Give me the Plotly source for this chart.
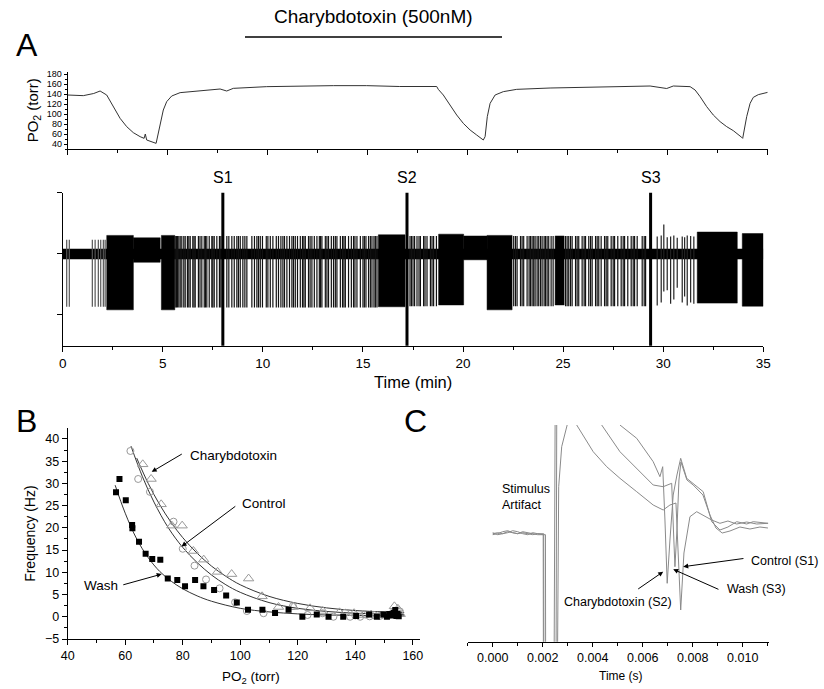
import plotly.graph_objects as go

W, H = 824, 689
FONT = "Arial, Liberation Sans, sans-serif"

def px(x):
    return x / W

def py(y):
    return 1 - y / H

# ---------------- Panel A (top): PO2 trace ----------------
po2_time = [0, 0.78, 1.3, 1.62, 1.95, 2.28, 2.62, 2.95, 3.28, 3.62, 3.82, 3.88, 3.95, 4.42,
            4.53, 4.62, 4.78, 4.95, 5.2, 5.62, 6.62, 7.62, 7.95, 8.28, 9.95, 11.62, 13.28,
            14.95, 16.6, 18.45, 18.53, 18.78, 19.12, 19.45, 19.78, 20.12, 20.45, 20.78,
            20.87, 20.98, 21.12, 21.37, 21.78, 22.45, 24.12, 26.62, 29.12, 29.95, 30.28,
            31.12, 31.37, 31.62, 31.95, 32.28, 32.62, 32.95, 33.28, 33.7, 33.75, 33.95,
            34.12, 34.28, 34.53, 35.0]
po2_vals = [138, 136.7, 141, 146, 138, 114.7, 91.3, 74.7, 62.7, 54.7, 51.3, 60, 48, 41.3,
            61.3, 81.3, 108, 124.7, 136, 142.7, 146.7, 150, 146, 151.3, 154.7, 156, 156.7,
            156.7, 155, 155, 149.3, 138, 118, 98, 81.3, 68, 58, 48,
            54.7, 94.7, 121.3, 138, 144.7, 149.3, 152, 154.7, 156, 151, 156,
            154.7, 148, 134.7, 114.7, 98, 84.7, 74.7, 66.7, 53.3, 51.3, 94.7,
            121.3, 133.3, 138.7, 143.3]

# ---------------- Panel A (bottom): nerve activity ----------------
noise_band = [0.08, -0.09]            # baseline noise envelope (a.u.)
burst_start = [2.2, 3.53, 4.93, 15.77, 18.78, 20.03, 21.2, 24.6, 31.7, 33.95]
burst_end = [3.53, 4.87, 5.6, 17.1, 20.03, 21.2, 22.45, 25.05, 33.7, 35.0]
burst_top = [0.30, 0.26, 0.30, 0.31, 0.32, 0.29, 0.30, 0.29, 0.355, 0.33]
burst_bottom = [-0.92, -0.14, -0.92, -0.87, -0.84, -0.10, -0.92, -0.84, -0.81, -0.86]

spikes_early = [0.2, 0.33, 1.48, 1.62, 1.78, 1.9, 2.03, 2.12]
spikes_mid = [5.62, 5.68, 5.73, 5.8, 5.87, 5.95, 6.05, 6.12, 6.23, 6.3, 6.37, 6.50, 6.56, 6.62,
              6.78, 6.86, 6.95, 7.07, 7.13, 7.2, 7.32, 7.45, 7.5, 7.57, 7.7, 7.83, 7.9, 8.2,
              8.3, 8.45, 8.57, 8.7, 8.78, 8.87, 9.0, 9.1, 9.2, 9.45, 9.58, 9.7, 9.78, 9.87,
              9.98, 10.17, 10.25, 10.37, 10.5, 10.67, 10.78, 10.9, 11.0, 11.08, 11.2, 11.33,
              11.45, 11.53, 11.62, 11.73, 11.87, 11.98, 12.05, 12.12, 12.28, 12.36, 12.45,
              12.57, 12.7, 12.82, 12.88, 12.95, 13.12, 13.2, 13.28, 13.42, 13.53, 13.62,
              13.7, 13.87, 13.98, 14.05, 14.12, 14.28, 14.42, 14.53, 14.6, 14.7, 14.87,
              15.0, 15.07, 15.15, 15.28, 15.37, 15.45, 15.55, 15.62, 15.7]
spikes_after_s2 = [17.35, 17.42, 17.5, 17.58, 17.7, 17.8, 17.87, 18.03, 18.1, 18.2, 18.37,
                   18.45, 18.53, 18.67, 22.53, 22.62, 22.7, 22.87, 22.95, 23.03, 23.2, 23.3,
                   23.37, 23.45, 23.53, 23.6, 23.7, 23.78, 23.87, 23.95, 24.05, 24.12, 24.2,
                   24.28, 24.4, 24.5, 25.12, 25.2, 25.28, 25.37, 25.45, 25.62, 25.7, 25.78,
                   25.95, 26.05, 26.12, 26.28, 26.37, 26.45, 26.62, 26.7, 26.78, 26.9, 27.07,
                   27.15, 27.23, 27.4, 27.5, 27.57, 27.73, 27.9, 28.0, 28.07, 28.23, 28.4,
                   28.5, 28.57, 28.7, 28.95, 29.05, 29.12]
spikes_after_s3 = [29.7, 29.9, 30.03, 30.2, 30.37, 30.53, 30.7, 30.95, 31.07, 31.2, 31.37, 31.53]
spikes_after_s3_bottom = [-0.85, -0.80, -0.62, -0.60, -0.82, -0.75, -0.56, -0.80, -0.70, -0.85, -0.80, -0.82]
spikes_after_s3_top = [0.28, 0.30, 0.48, 0.27, 0.28, 0.30, 0.26, 0.28, 0.27, 0.30, 0.29, 0.28]

stim_times = [8.0, 17.2, 29.37]
stim_labels = ["S1", "S2", "S3"]

# ---------------- Panel B: frequency vs PO2 ----------------
wash_x = [56.8, 58.0, 60.2, 62.4, 62.5, 64.8, 67.1, 69.4, 72.2, 74.8, 78.1, 80.8, 84.3, 87.2,
          90.9, 95.1, 98.8, 102.7, 107.7, 112.1, 116.8, 121.6, 126.6, 130.7, 135.8, 140.3,
          144.8, 147.5, 149.8, 151.0, 151.8, 152.6, 153.3, 153.9, 154.3, 154.7, 155.1]
wash_y = [28.0, 31.0, 26.2, 20.65, 19.9, 16.9, 14.2, 13.0, 12.85, 8.6, 8.3, 6.85, 8.3, 6.85,
          6.0, 4.8, 3.2, 1.6, 1.6, 0.85, 1.6, 0.0, 0.5, 0.0, 0.0, 0.15,
          0.5, 0.0, 0.5, 0.0, 0.6, 0.3, 0.9, 1.5, 0.2, 0.6, 0.1]
ctrl_x = [61.8, 64.5, 68.6, 76.8, 80.0, 84.1, 88.1, 92.8, 98.2, 102.3, 108.1, 118.3, 123.4,
          128.6, 132.4, 136.5, 138.2, 140.0, 141.7, 143.5, 145.0, 146.5, 148.6, 152.0, 154.0, 155.5]
ctrl_y = [37.3, 31.0, 28.1, 21.4, 15.3, 11.5, 8.4, 6.4, 3.25, 1.3, 0.8, 2.4, 0.4,
          0.8, 0.0, 0.9, 0.0, 0.3, 0.0, 0.5, 0.1, 0.4, 0.2, 0.5, 0.8, 1.2]
chtx_x = [66.1, 69.0, 72.5, 76.2, 79.8, 83.7, 87.3, 92.1, 97.0, 102.9, 107.6, 113.3, 118.5,
          124.3, 128.7, 134.5, 139.6, 142.8, 145.5, 150.5, 153.6, 154.8, 155.6]
chtx_y = [34.3, 31.0, 25.3, 20.5, 20.5, 14.8, 12.85, 10.1, 9.6, 8.6, 4.6, 2.2, 2.2,
          1.9, 1.3, 1.0, 0.8, 0.4, 0.5, 0.3, 2.35, 1.8, 0.6]

fit_wash_x = [56.5, 60, 64, 68, 72, 76, 80, 85, 90, 100, 110, 120, 130, 140, 150, 157]
fit_wash_y = [29.6, 23.3, 17.5, 13.3, 10.2, 8.0, 6.3, 4.7, 3.5, 1.9, 1.1, 0.65, 0.4, 0.3, 0.2, 0.2]
fit_ctrl_x = [62, 66, 70, 75, 80, 85, 90, 95, 100, 110, 120, 130, 140, 150, 157]
fit_ctrl_y = [38.4, 31.5, 25.8, 20.0, 15.6, 12.2, 9.4, 7.2, 5.5, 3.2, 1.9, 1.2, 0.8, 0.6, 0.5]
fit_chtx_x = [64, 68, 72, 76, 80, 85, 90, 95, 100, 110, 120, 130, 140, 150, 157]
fit_chtx_y = [35.7, 30.0, 25.2, 21.2, 17.8, 14.3, 11.4, 9.1, 7.2, 4.6, 3.0, 2.0, 1.4, 1.1, 0.95]

# ---------------- Panel C: compound action potentials ----------------
c_ctrl_t = [0, 0.0002, 0.0004, 0.0006, 0.0008, 0.0010, 0.0012, 0.0014, 0.0016, 0.0018, 0.00202,
            0.00203, 0.00245, 0.00251, 0.0030, 0.00336, 0.00402, 0.00456, 0.00509, 0.00576,
            0.00642, 0.00682, 0.00709, 0.00733, 0.00743, 0.00752, 0.00765, 0.00789, 0.00816,
            0.00842, 0.00876, 0.00909, 0.00941, 0.00976, 0.01016, 0.01056, 0.01101]
c_ctrl_v = [108, 109, 108, 110, 109, 108, 109, 108, 107, 108, 107,
            -60, -60, 300, 250, 216.7, 190, 175, 163.4, 150,
            136.7, 131.7, 136.7, 138.7, 81.7, 31.7, 88.7, 125, 130,
            126.7, 121.7, 118.4, 120.7, 117.7, 119.7, 117.7, 118.4]
c_chtx_t = [0, 0.0002, 0.0004, 0.0006, 0.0008, 0.0010, 0.0012, 0.0014, 0.0016, 0.0018, 0.00211,
            0.00212, 0.00253, 0.00257, 0.0040, 0.00509, 0.00576, 0.00642, 0.00669, 0.00680,
            0.00689, 0.00698, 0.00709, 0.00722, 0.00737, 0.00752, 0.00776, 0.00802, 0.00842,
            0.00876, 0.00909, 0.00941, 0.00976, 0.01016, 0.01042, 0.01102]
c_chtx_v = [107, 108, 110, 111, 109, 108, 110, 109, 108, 107, 107,
            -60, -60, 300, 300, 216.7, 203.4, 180, 165, 175,
            121.7, 58.4, 101.7, 146.7, 166.7, 183.4, 163.4, 158.4, 150,
            120, 111.7, 114.7, 120, 117.7, 120, 118.4]
c_wash_t = [0, 0.0002, 0.0004, 0.0006, 0.0008, 0.0010, 0.0012, 0.0014, 0.0016, 0.0018, 0.00204,
            0.00205, 0.00258, 0.00264, 0.00276, 0.00297, 0.00313, 0.00369, 0.00436, 0.00509,
            0.00576, 0.00642, 0.00682, 0.00701, 0.00716, 0.00723, 0.00729, 0.00737, 0.00745,
            0.00753, 0.00777, 0.00802, 0.00841, 0.00869, 0.00893, 0.00918, 0.00949, 0.00989,
            0.01029, 0.01069, 0.01101]
c_wash_v = [109, 107, 108, 109, 111, 110, 108, 107, 109, 108, 108,
            -60, -60, 155, 195, 216.7, 231.7, 236.7, 216.7, 190,
            173.4, 156.7, 155, 156.7, 158.4, 111.7, 75, 111.7, 161.7,
            179.7, 161.7, 156.7, 146.7, 126.7, 113.7, 108.7, 110.7, 114.7,
            112.7, 114.7, 113.7]

fig = go.Figure()

# --- A top
fig.add_trace(go.Scatter(x=po2_time, y=po2_vals, mode="lines", xaxis="x", yaxis="y",
                         line=dict(color="#333333", width=1), showlegend=False, hoverinfo="skip"))

# --- A bottom: baseline band
fig.add_trace(go.Scatter(x=[0, 35, 35, 0, 0],
                         y=[noise_band[0], noise_band[0], noise_band[1], noise_band[1], noise_band[0]],
                         mode="lines", fill="toself", fillcolor="black", line=dict(width=0, color="black"),
                         xaxis="x2", yaxis="y2", showlegend=False, hoverinfo="skip"))
for s, e, t, b in zip(burst_start, burst_end, burst_top, burst_bottom):
    fig.add_trace(go.Scatter(x=[s, e, e, s, s], y=[t, t, b, b, t], mode="lines", fill="toself",
                             fillcolor="black", line=dict(width=0.5, color="black"),
                             xaxis="x2", yaxis="y2", showlegend=False, hoverinfo="skip"))

def spike_xy(times, tops, bots):
    xs, ys = [], []
    for t, a, b in zip(times, tops, bots):
        xs += [t, t, None]
        ys += [a, b, None]
    return xs, ys

groups = [
    (spikes_early, [0.23] * len(spikes_early), [-0.87] * len(spikes_early), "#555555"),
    (spikes_mid, [0.29] * len(spikes_mid), [-0.88] * len(spikes_mid), "#111111"),
    (spikes_after_s2, [0.29] * len(spikes_after_s2), [-0.86] * len(spikes_after_s2), "#111111"),
    (spikes_after_s3, spikes_after_s3_top, spikes_after_s3_bottom, "#222222"),
]
for tt, tops, bots, col in groups:
    xs, ys = spike_xy(tt, tops, bots)
    fig.add_trace(go.Scatter(x=xs, y=ys, mode="lines", line=dict(color=col, width=1.2),
                             xaxis="x2", yaxis="y2", showlegend=False, hoverinfo="skip"))

sx, sy = [], []
for t in stim_times:
    sx += [t, t, None]
    sy += [-1.6, 1.1, None]
fig.add_trace(go.Scatter(x=sx, y=sy, mode="lines", line=dict(color="black", width=3),
                         xaxis="x2", yaxis="y2", showlegend=False, hoverinfo="skip"))

# --- B
for fx, fy in [(fit_wash_x, fit_wash_y), (fit_ctrl_x, fit_ctrl_y), (fit_chtx_x, fit_chtx_y)]:
    fig.add_trace(go.Scatter(x=fx, y=fy, mode="lines", line=dict(color="#333333", width=1, shape="spline"),
                             xaxis="x3", yaxis="y3", showlegend=False, hoverinfo="skip"))
fig.add_trace(go.Scatter(x=ctrl_x, y=ctrl_y, mode="markers", xaxis="x3", yaxis="y3", showlegend=False,
                         marker=dict(symbol="circle-open", size=7, color="#999999", line=dict(width=1))))
fig.add_trace(go.Scatter(x=chtx_x, y=chtx_y, mode="markers", xaxis="x3", yaxis="y3", showlegend=False,
                         marker=dict(symbol="triangle-up-open", size=9, color="#999999", line=dict(width=1))))
fig.add_trace(go.Scatter(x=wash_x, y=wash_y, mode="markers", xaxis="x3", yaxis="y3", showlegend=False,
                         marker=dict(symbol="square", size=6, color="black")))

# --- C
for tt, vv in [(c_ctrl_t, c_ctrl_v), (c_chtx_t, c_chtx_v), (c_wash_t, c_wash_v)]:
    fig.add_trace(go.Scatter(x=tt, y=vv, mode="lines", line=dict(color="#8a8a8a", width=1),
                             xaxis="x4", yaxis="y4", showlegend=False, hoverinfo="skip"))

axis_common = dict(showline=True, linecolor="black", linewidth=1, showgrid=False, zeroline=False,
                   ticks="outside", tickcolor="black", tickwidth=1, mirror=False, automargin=False)

fig.update_layout(
    width=W, height=H, margin=dict(l=0, r=0, t=0, b=0), autosize=False,
    paper_bgcolor="white", plot_bgcolor="white",
    font=dict(family=FONT, color="black"),
    xaxis=dict(domain=[px(67.7), px(767.7)], anchor="y", range=[0, 35], dtick=5, tick0=0,
               showticklabels=False, ticklen=5, minor=dict(dtick=2.5, ticklen=3, ticks="outside"),
               **axis_common),
    yaxis=dict(domain=[py(149), py(71.5)], anchor="x", range=[30, 185], dtick=20, tick0=40,
               ticklen=3, tickfont=dict(size=9), minor=dict(dtick=10, ticklen=2, ticks="outside"),
               title=dict(text="PO<sub>2</sub> (torr)", font=dict(size=15), standoff=4),
               **axis_common),
    xaxis2=dict(domain=[px(62.7), px(763.3)], anchor="y2", range=[0, 35], dtick=5, tick0=0,
                ticklen=5, tickfont=dict(size=13.5), minor=dict(dtick=2.5, ticklen=3, ticks="outside"),
                **axis_common),
    yaxis2=dict(domain=[py(345.7), py(192.7)], anchor="x2", range=[-1.508, 1.0],
                tickvals=[-1, 0, 1], showticklabels=False, ticklen=5, **axis_common),
    xaxis3=dict(domain=[px(67.7), px(420)], anchor="y3", range=[40, 162.5], dtick=20, tick0=40,
                ticklen=5, tickfont=dict(size=12.5), minor=dict(dtick=10, ticklen=3, ticks="outside"),
                **axis_common),
    yaxis3=dict(domain=[py(639), py(428.3)], anchor="x3", range=[-5, 42.4], dtick=5, tick0=-5,
                ticklen=5, tickfont=dict(size=12.5), minor=dict(dtick=2.5, ticklen=3, ticks="outside"),
                title=dict(text="Frequency (Hz)", font=dict(size=14), standoff=6),
                **axis_common),
    xaxis4=dict(domain=[px(467.7), px(768.7)], anchor="y4", range=[-0.001, 0.01104], dtick=0.002,
                tick0=0, tickformat=".3f", ticklen=4, tickfont=dict(size=12.5),
                minor=dict(dtick=0.001, ticklen=3, ticks="outside"), **axis_common),
    yaxis4=dict(domain=[py(641.7), py(425)], anchor="x4", range=[0, 216.7], visible=False),
)

ann = []
def txt(x, y, text, size, xanchor="center", yanchor="middle", align="center"):
    ann.append(dict(x=px(x), y=py(y), xref="paper", yref="paper", text=text, showarrow=False,
                    font=dict(size=size, family=FONT, color="black"), xanchor=xanchor,
                    yanchor=yanchor, align=align))

txt(373, 17, "Charybdotoxin (500nM)", 19)
txt(27, 45, "A", 32)
txt(26, 421, "B", 32)
txt(415, 421, "C", 32)
txt(413, 382, "Time (min)", 16.5)
txt(251, 677, "PO<sub>2</sub> (torr)", 13.5)
txt(621, 676, "Time (s)", 12)
txt(188, 455, "Charybdotoxin", 13.5, xanchor="left")
txt(240, 503.5, "Control", 13.5, xanchor="left")
txt(101, 585.7, "Wash", 13.5)
txt(500, 496.5, "Stimulus<br>Artifact", 12.5, xanchor="left", align="left")
txt(820, 561, "Control (S1)", 12.5, xanchor="right")
txt(725, 588.5, "Wash (S3)", 12.5, xanchor="left")
txt(617.5, 601.7, "Charybdotoxin (S2)", 12.5)

for t, lab in zip(stim_times, stim_labels):
    ann.append(dict(x=t, y=py(177), xref="x2", yref="paper", text=lab, showarrow=False,
                    font=dict(size=16, family=FONT, color="black"), xanchor="center", yanchor="middle"))

def arrow(xr, yr, tip, tail):
    ann.append(dict(x=tip[0], y=tip[1], ax=tail[0], ay=tail[1], xref=xr, yref=yr, axref=xr, ayref=yr,
                    text="", showarrow=True, arrowhead=2, arrowsize=1, arrowwidth=1, arrowcolor="black",
                    standoff=0, startstandoff=0))

arrow("x3", "y3", (69.2, 32.6), (80.2, 36.8))
arrow("x3", "y3", (79.6, 15.8), (98.8, 25.1))
arrow("x3", "y3", (72.7, 9.6), (58.8, 7.1))
arrow("x4", "y4", (0.00762, 75), (0.01009, 83.4))
arrow("x4", "y4", (0.00722, 72.4), (0.00909, 51.7))
arrow("x4", "y4", (0.00682, 70), (0.00576, 51.7))

fig.update_layout(annotations=ann,
                  shapes=[dict(type="line", xref="paper", yref="paper", x0=px(245), x1=px(502),
                               y0=py(37), y1=py(37), line=dict(color="black", width=1.5))])

fig.write_html("out.html", config={"responsive": False, "displayModeBar": False},
               post_script="document.body.style.margin='0';document.body.style.overflow='hidden';")
